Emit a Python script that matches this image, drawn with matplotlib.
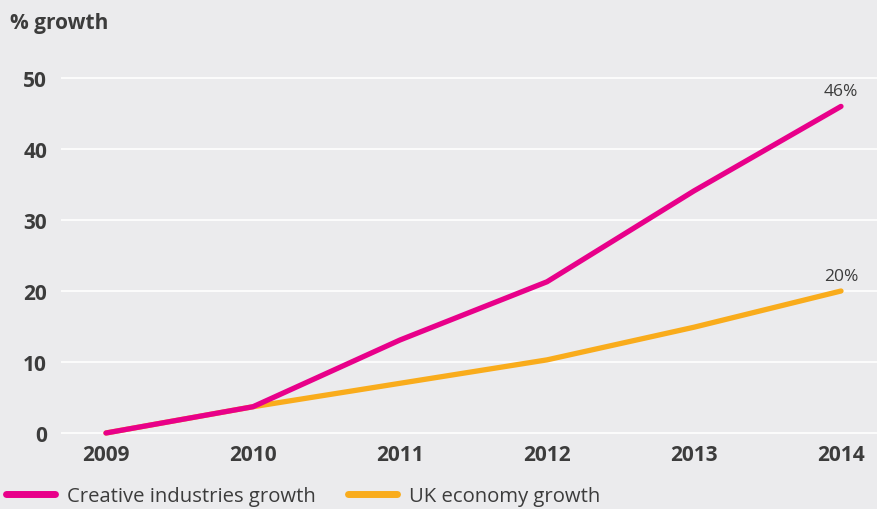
import numpy as np
import matplotlib.pyplot as plt

# values
years = [2009, 2010, 2011, 2012, 2013, 2014]
creative = [0, 3.7, 13.1, 21.3, 34.1, 46]
uk_economy = [0, 3.7, 7.0, 10.3, 14.9, 20]
y_ticks = [0, 10, 20, 30, 40, 50]

bg = "#ebebed"
txt = "#3c3c3c"
pink = "#e8008a"
orange = "#f9ac1c"

plt.rcParams['font.family'] = ['Open Sans', 'DejaVu Sans']

fig = plt.figure(figsize=(8.77, 5.10), dpi=100, facecolor=bg)
ax = fig.add_axes([61/877, 65/510, 1 - 61/877, 380/510], facecolor=bg)

#lines, orange first so pink sits on top
ax.plot(years, uk_economy, color=orange, lw=3.8, solid_capstyle='round',
        solid_joinstyle='round', label="UK economy growth", zorder=3, clip_on=False)
ax.plot(years, creative, color=pink, lw=3.8, solid_capstyle='round',
        solid_joinstyle='round', label="Creative industries growth", zorder=4, clip_on=False)

ax.set_xlim(2009 - 45/147, 2014 + 36/147)
ax.set_ylim(-11/7.1, 50 + 14/7.1)
ax.set_yticks(y_ticks)
ax.set_xticks(years)
ax.grid(axis='y', color='white', lw=1.2)
ax.grid(axis='x', visible=False)
ax.set_axisbelow(True)
for s in ax.spines.values():
    s.set_visible(False)
ax.tick_params(length=0, labelsize=15, labelcolor=txt)
ax.tick_params(axis='y', pad=10)
ax.tick_params(axis='x', pad=0)
for lab in ax.get_xticklabels() + ax.get_yticklabels():
    lab.set_fontweight('bold')

#end labels
ax.annotate(f"{creative[-1]:.0f}%", (years[-1], creative[-1]), xytext=(0, 8),
            textcoords='offset points', ha='center', va='baseline', fontsize=12.5, color=txt)
ax.annotate(f"{uk_economy[-1]:.0f}%", (years[-1], uk_economy[-1]), xytext=(0, 8),
            textcoords='offset points', ha='center', va='baseline', fontsize=12.5, color=txt)

fig.text(10/877, 1 - 23/510, "% growth", fontsize=15, fontweight='bold', color=txt,
         ha='left', va='center')

handles, labels = ax.get_legend_handles_labels()
leg = fig.legend(handles[::-1], labels[::-1], loc='center left', bbox_to_anchor=(0.0, 1 - 497/510),
                 ncol=2, frameon=False, fontsize=14.6, handlelength=2.4, handletextpad=0.6,
                 columnspacing=1.6, borderaxespad=0, borderpad=0.3)
for t in leg.get_texts():
    t.set_color(txt)
for l in leg.get_lines():
    l.set_linewidth(5)

fig.savefig("out.png", dpi=100, facecolor=bg)
